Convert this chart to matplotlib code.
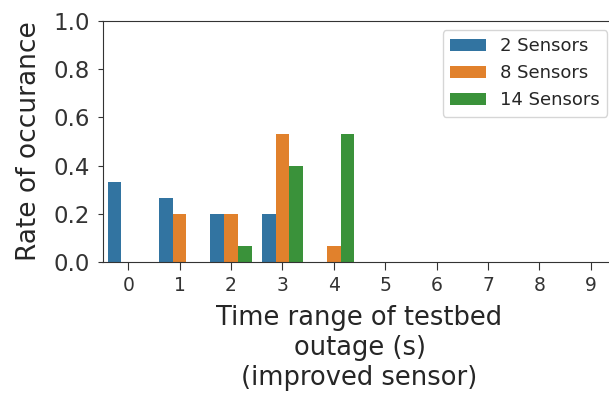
import colorsys
import numpy as np
import matplotlib
matplotlib.use("Agg")
import matplotlib.pyplot as plt
import matplotlib.colors as mcolors

categories = [0, 1, 2, 3, 4, 5, 6, 7, 8, 9]
series_names = ["2 Sensors", "8 Sensors", "14 Sensors"]
s2 = [0.333, 0.267, 0.2, 0.2, 0, 0, 0, 0, 0, 0]
s8 = [0, 0.2, 0.2, 0.533, 0.067, 0, 0, 0, 0, 0]
s14 = [0, 0, 0.067, 0.4, 0.533, 0, 0, 0, 0, 0]
yticks = [0.0, 0.2, 0.4, 0.6, 0.8, 1.0]

TEXT = "#262626"
plt.rcParams["text.color"] = TEXT
plt.rcParams["axes.labelcolor"] = TEXT
plt.rcParams["xtick.color"] = "#333333"
plt.rcParams["ytick.color"] = "#333333"
plt.rcParams["axes.edgecolor"] = "#333333"


def desat(c, prop=0.75):
    r, g, b = mcolors.to_rgb(c)
    h, l, s = colorsys.rgb_to_hls(r, g, b)
    return colorsys.hls_to_rgb(h, l, s * prop)


colors = [desat(c) for c in ["#1f77b4", "#ff7f0e", "#2ca02c"]]

W, H = 609, 394
fig = plt.figure(figsize=(W / 100, H / 100), dpi=100)
ax = fig.add_axes([102.5 / W, 132 / H, 514 / W, 241 / H])

x = np.arange(len(categories))
n = 3
w = 0.8 / n
for i, (vals, name) in enumerate(zip([s2, s8, s14], series_names)):
    ax.bar(x + (i - 1) * w, vals, width=w, color=colors[i], label=name)

ax.set_xlim(-0.5, len(categories) - 0.5)
ax.set_ylim(0, 1.0)
ax.set_xticks(x)
ax.set_xticklabels([str(c) for c in categories], fontsize=13.5)
ax.set_yticks(yticks)
ax.set_yticklabels([f"{v:.1f}" for v in yticks], fontsize=16.5)
ax.tick_params(axis="x", length=5.5, pad=4.5)
ax.tick_params(axis="y", length=3.5, pad=5.5)
ax.spines["right"].set_visible(False)
ax.set_ylabel("Rate of occurance", fontsize=19, labelpad=8)
ax.set_xlabel("Time range of testbed\noutage (s)\n(improved sensor)",
              fontsize=18.5, labelpad=7.5)
ax.legend(loc="upper right", fontsize=13)

fig.savefig("out.png", dpi=100)
